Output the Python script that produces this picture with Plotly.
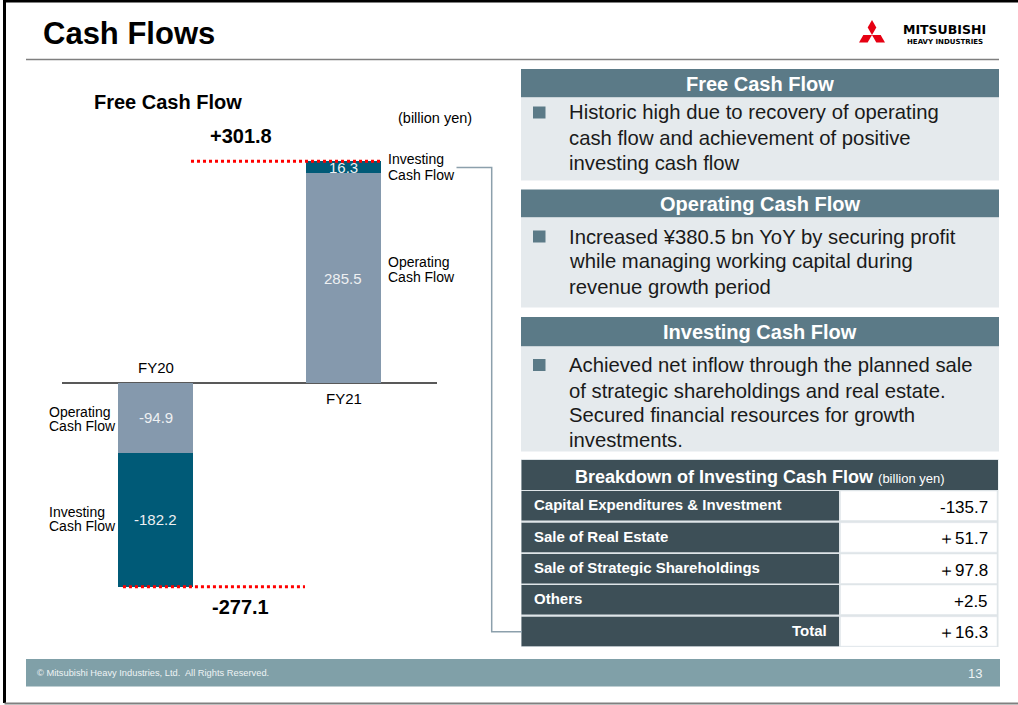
import math
import plotly.graph_objects as go

# ---------------- data ----------------
categories = ["FY20", "FY21"]
operating_cf = [-94.9, 285.5]
investing_cf = [-182.2, 16.3]

breakdown_items = ["Capital Expenditures & Investment", "Sale of Real Estate",
                   "Sale of Strategic Shareholdings", "Others", "Total"]
breakdown_values = ["-135.7", "＋51.7", "＋97.8", "+2.5", "＋16.3"]

panel_titles = ["Free Cash Flow", "Operating Cash Flow", "Investing Cash Flow"]
panel_lines = [
    ["Historic high due to recovery of operating",
     "cash flow and achievement of positive",
     "investing cash flow"],
    ["Increased ¥380.5 bn YoY by securing profit",
     "while managing working capital during",
     "revenue growth period"],
    ["Achieved net inflow through the planned sale",
     "of strategic shareholdings and real estate.",
     "Secured financial resources for growth",
     "investments."],
]

# ---------------- helpers ----------------
W, H = 1018, 705
FONT = "Liberation Sans, Arial, sans-serif"


def X(p):
    return p / W


def Y(p):
    return 1 - p / H


OP_COLOR = "#8599ad"
INV_COLOR = "#005a77"
HEAD_COLOR = "#5b7a87"
BODY_COLOR = "#e5eaed"
TABLE_DARK = "#3d4f57"
FOOT_COLOR = "#80a0a8"

fig = go.Figure()
fig.add_trace(go.Bar(x=categories, y=operating_cf, width=0.4, marker=dict(color=OP_COLOR, line=dict(width=0)),
                     name="Operating Cash Flow", showlegend=False, hoverinfo="skip"))
fig.add_trace(go.Bar(x=categories, y=investing_cf, width=0.4, marker=dict(color=INV_COLOR, line=dict(width=0)),
                     name="Investing Cash Flow", showlegend=False, hoverinfo="skip"))

shapes = []
ann = []


def rect(x0, y0, x1, y1, fill, line=None, lw=0):
    shapes.append(dict(type="rect", xref="paper", yref="paper", x0=X(x0), x1=X(x1), y0=Y(y1), y1=Y(y0),
                       fillcolor=fill, line=dict(color=line or fill, width=lw), layer="below"))


def pline(pts, color, width, dash="solid"):
    path = "M " + " L ".join(f"{X(a)},{Y(b)}" for a, b in pts)
    shapes.append(dict(type="path", xref="paper", yref="paper", path=path,
                       line=dict(color=color, width=width, dash=dash)))


def text(x, y, s, size, color="#000000", anchor="center", bold=False, family=FONT):
    if bold:
        s = "<b>" + s + "</b>"
    ann.append(dict(xref="paper", yref="paper", x=X(x), y=Y(y), text=s, showarrow=False,
                    xanchor=anchor, yanchor="middle", font=dict(size=size, color=color, family=family)))


# slide border
pline([(4.5, 703), (4.5, 1), (1018, 1)], "#000000", 3)
pline([(4.5, 703.5), (1018, 703.5)], "#808080", 2)

# title
text(41, 34, "Cash Flows", 31, anchor="left", bold=True)
pline([(26, 59.5), (999, 59.5)], "#7f7f7f", 1.5)

# logo (three diamonds)
cx, cy = 872, 35
base = [(0, 0), (-4.33, -7.5), (0, -15), (4.33, -7.5)]
for ang in (0, 120, -120):
    t = math.radians(ang)
    pts = [(cx + a * math.cos(t) - b * math.sin(t), cy + a * math.sin(t) + b * math.cos(t)) for a, b in base]
    path = "M " + " L ".join(f"{X(a)},{Y(b)}" for a, b in pts) + " Z"
    shapes.append(dict(type="path", xref="paper", yref="paper", path=path, fillcolor="#e60012",
                       line=dict(width=0)))
text(944.5, 29.5, "MITSUBISHI", 12.5, bold=True, family="DejaVu Sans, sans-serif")
text(944.5, 41.5, "HEAVY INDUSTRIES", 7, bold=True, family="DejaVu Sans, sans-serif")

# ---------------- chart texts ----------------
fcf = [o + i for o, i in zip(operating_cf, investing_cf)]
for k, c in enumerate(categories):
    ann.append(dict(x=c, y=operating_cf[k] / 2, xref="x", yref="y", text=f"{operating_cf[k]:.1f}",
                    showarrow=False, font=dict(size=15, color="#eef0f2", family=FONT)))
    ann.append(dict(x=c, y=operating_cf[k] + investing_cf[k] / 2, xref="x", yref="y",
                    text=f"{investing_cf[k]:.1f}", showarrow=False,
                    font=dict(size=15, color="#eef0f2", family=FONT)))

text(167.5, 102, "Free Cash Flow", 20, bold=True)
text(435, 118, "(billion yen)", 14.5)
text(241, 136, f"{fcf[1]:+.1f}", 20, bold=True)
text(240, 606.5, f"{fcf[0]:+.1f}", 20, bold=True)
text(155.5, 367.5, categories[0], 15)
text(343.5, 398, categories[1], 15)

text(386, 159.5, "Investing", 14, anchor="left")
text(386, 175, "Cash Flow", 14, anchor="left")
text(386, 262, "Operating", 14, anchor="left")
text(386, 277, "Cash Flow", 14, anchor="left")
text(47, 411.5, "Operating", 14, anchor="left")
text(47, 426, "Cash Flow", 14, anchor="left")
text(47, 511.5, "Investing", 14, anchor="left")
text(47, 526, "Cash Flow", 14, anchor="left")

# red dotted totals
shapes.append(dict(type="line", xref="x", yref="y", x0=0.188, x1=1.2, y0=fcf[1], y1=fcf[1],
                   line=dict(color="#ff0000", width=3, dash="dot")))
shapes.append(dict(type="line", xref="x", yref="y", x0=-0.175, x1=0.796, y0=fcf[0], y1=fcf[0],
                   line=dict(color="#ff0000", width=3, dash="dot")))

# connector
pline([(456.5, 167.5), (491.7, 167.5), (491.7, 631.7), (522, 631.7)], "#8ca0ac", 1.5)

# ---------------- right panels ----------------
panel_geo = [(69, 97.5, 180.5, [112.5, 137.5, 162.5]),
             (189.5, 217.5, 307.5, [236.5, 261.5, 287]),
             (317, 346.5, 451.5, [365, 390.5, 415, 440])]
for (ht, hb, bb, ys), title, lines in zip(panel_geo, panel_titles, panel_lines):
    rect(521, ht, 999, hb, HEAD_COLOR)
    rect(521, hb, 999, bb, BODY_COLOR)
    text(760, (ht + hb) / 2 + 0.5, title, 20, color="#ffffff", bold=True)
    rect(533, ys[0] - 6, 545.5, ys[0] + 6, HEAD_COLOR)
    shapes[-1]["layer"] = "above"
    for yy, ln in zip(ys, lines):
        text(566.5, yy, ln, 20.3, color="#1a1a1a", anchor="left")

# ---------------- table ----------------
rect(521, 459, 998.5, 647, "#dfe5e8")
rect(521.5, 460, 998, 490, TABLE_DARK)
text(760, 476.5, "<b>Breakdown of Investing Cash Flow</b> <span style='font-size:13px'>(billion yen)</span>",
     18, color="#ffffff")
row_tops = [491, 522.7, 554, 585, 616.7]
for k, (item, val) in enumerate(zip(breakdown_items, breakdown_values)):
    t = row_tops[k]
    b = t + 29.5
    rect(521.5, t, 839, b, TABLE_DARK)
    rect(840.5, t, 997, b, "#ffffff", line="#dfe5e8", lw=0.5)
    if item == "Total":
        text(829, (t + b) / 2 - 1, item, 15, color="#ffffff", anchor="right", bold=True)
    else:
        text(531.5, (t + b) / 2 - 1, item, 15, color="#ffffff", anchor="left", bold=True)
    text(990, (t + b) / 2 + 1.5, val, 17, color="#000000", anchor="right")

# ---------------- footer ----------------
rect(26, 659, 1000, 686.5, FOOT_COLOR)
text(35, 673, "© Mitsubishi Heavy Industries, Ltd.  All Rights Reserved.", 9.3, color="#eef3f4", anchor="left")
text(984, 673, "13", 13, color="#eef3f4", anchor="right")

fig.update_layout(
    width=W, height=H, margin=dict(l=0, r=0, t=0, b=0),
    paper_bgcolor="#ffffff", plot_bgcolor="rgba(0,0,0,0)",
    barmode="relative", bargap=0,
    shapes=shapes, annotations=ann, showlegend=False,
    xaxis=dict(type="category", range=[-0.5, 1.5], domain=[X(62), X(437)], visible=False, fixedrange=True),
    yaxis=dict(range=[-295.24, 330.61], domain=[Y(600), Y(140)], showgrid=False, showticklabels=False,
               ticks="", zeroline=True, zerolinecolor="#595959", zerolinewidth=1.5, showline=False,
               fixedrange=True),
    font=dict(family=FONT),
)

fig.write_html("out.html", config={"displayModeBar": False},
               post_script="document.body.style.margin='0px';document.body.style.overflow='hidden';")
